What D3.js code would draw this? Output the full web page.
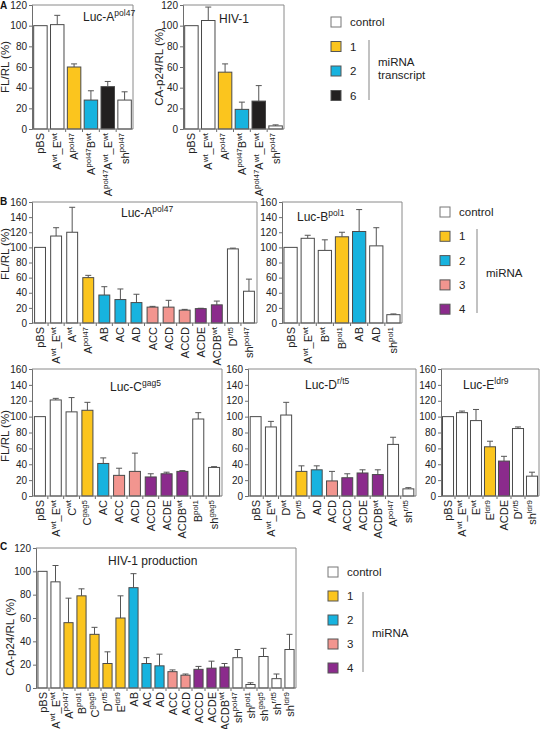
<!DOCTYPE html>
<html><head><meta charset="utf-8">
<script src="https://cdn.jsdelivr.net/npm/d3@7"></script>
<style>body{margin:0;background:#fff}svg{display:block}</style>
</head><body>
<svg id="fig" width="540" height="729"></svg>
<script>
// ---------- DATA ----------
const catsA = ["pBS","A{wt}_E{wt}","A{pol47}","A{pol47}B{wt}","A{pol47}A{wt}_E{wt}","sh{pol47}"];
const grpA  = ["w","w","y","b","k","w"];
const valsA1 = [100,101,60,28,41,28];
const errA1  = [0,9,3,9,5,8];
const valsA2 = [100,105,55,19,27,3];
const errA2  = [0,13,8,7,15,1];

const catsB1 = ["pBS","A{wt}_E{wt}","A{wt}","A{pol47}","AB","AC","AD","ACC","ACD","ACCD","ACDE","ACDB{wt}","D{r/t5}","sh{pol47}"];
const valsB1 = [100,115,120,60,37,31,27,21,21,17,19,24,98,42];
const errB1  = [0,11,33,3,11,14,11,1,9,1,0.5,5,1,16];
const grpB1  = ["w","w","w","y","b","b","b","p","p","p","u","u","w","w"];

const catsB2 = ["pBS","A{wt}_E{wt}","B{wt}","B{pol1}","AB","AD","sh{pol1}"];
const valsB2 = [100,112,96,114,121,102,11];
const errB2  = [0,4,14,6,29,24,1];
const grpB2  = ["w","w","w","y","b","w","w"];

const catsB3 = ["pBS","A{wt}_E{wt}","C{wt}","C{gag5}","AC","ACC","ACD","ACCD","ACDE","ACDB{wt}","B{pol1}","sh{gag5}"];
const valsB3 = [100,121,106,108,41,26,31,24,28,31,97,36];
const errB3  = [0,2,18,10,7,9,23,4,2,1,8,1];
const grpB3  = ["w","w","w","y","b","p","p","u","u","u","w","w"];

const catsB4 = ["pBS","A{wt}_E{wt}","D{wt}","D{r/t5}","AD","ACD","ACCD","ACDE","ACDB{wt}","A{pol47}","sh{r/t5}"];
const valsB4 = [100,87,102,31,33,19,23,29,27,65,9];
const errB4  = [0,7,16,7,5,12,5,4,6,9,1.5];
const grpB4  = ["w","w","w","y","b","p","u","u","u","w","w"];

const catsB5 = ["pBS","A{wt}_E{wt}","E{wt}","E{ldr9}","ACDE","D{r/t5}","sh{ldr9}"];
const valsB5 = [100,105,95,62,44,85,25];
const errB5  = [0,2,14,7,6,2,5];
const grpB5  = ["w","w","w","y","u","w","w"];

const catsC = ["pBS","A{wt}_E{wt}","A{pol47}","B{pol1}","C{gag5}","D{r/t5}","E{ldr9}","AB","AC","AD","ACC","ACD","ACCD","ACDE","ACDB{wt}","sh{pol47}","sh{pol1}","sh{gag5}","sh{r/t5}","sh{ldr9}"];
const valsC = [100,91,56,79,46,21,60,86,21,19,14,11,16,17,18,26,3,27,8,33];
const errC  = [0,14,21,6,6,10,19,12,5,10,1.5,1,2.5,6,3,7,1.5,7,4,13];
const grpC  = ["w","w","y","y","y","y","y","b","b","b","p","p","u","u","u","w","w","w","w","w"];

const ticks120 = [0,20,40,60,80,100,120];
const ticks160 = [0,20,40,60,80,100,120,140,160];

const legendA = ["control","1","2","6"];
const legendAGrp = ["w","y","b","k"];
const legendB = ["control","1","2","3","4"];
const legendBGrp = ["w","y","b","p","u"];

// ---------- STYLE ----------
const FONT = "'Liberation Sans', Arial, Helvetica, sans-serif";
const COL = {w:"#ffffff", y:"#FBC51E", b:"#17B3DF", p:"#F2958F", u:"#8B2B8C", k:"#222020"};
const AX = "#6e6e6e", FRAME = "#8a8a8a", BARSTROKE = "#4a4a4a";

const svg = d3.select("#fig").style("font-family", FONT);

function parseLabel(s){
  const parts = []; const re = /([^{}]+)|\{([^}]*)\}/g; let m;
  while((m = re.exec(s))){ if(m[1]!==undefined) parts.push({t:m[1],sup:false}); else parts.push({t:m[2],sup:true}); }
  return parts;
}
function richText(sel, s, size, supSize){
  const parts = parseLabel(s); let up = false;
  parts.forEach(p=>{
    const ts = sel.append("tspan").text(p.t);
    if(p.sup){ ts.attr("font-size", supSize); if(!up){ts.attr("dy", -size*0.38); up=true;} }
    else { ts.attr("font-size", size); if(up){ts.attr("dy", size*0.38); up=false;} }
  });
}

function chart(o){
  const g = svg.append("g");
  const x = d3.scaleBand().domain(o.cats.map((d,i)=>i)).range([o.x0,o.x1]).paddingInner(o.pad).paddingOuter(o.pad/2);
  const y = d3.scaleLinear().domain([0,o.max]).range([o.y0,o.yTop]);
  g.append("path").attr("d",`M${o.x0},${o.yTop}H${o.x1}V${o.y0}`).attr("fill","none").attr("stroke",FRAME).attr("stroke-width",1);
  o.cats.forEach((c,i)=>{
    const v=o.vals[i], e=o.err[i], cx=x(i)+x.bandwidth()/2;
    if(e>0){
      g.append("line").attr("x1",cx).attr("x2",cx).attr("y1",y(v)).attr("y2",y(v+e)).attr("stroke","#555").attr("stroke-width",1);
      g.append("line").attr("x1",cx-3).attr("x2",cx+3).attr("y1",y(v+e)).attr("y2",y(v+e)).attr("stroke","#555").attr("stroke-width",1);
    }
    g.append("rect").attr("x",x(i)+0.5).attr("y",y(v)).attr("width",x.bandwidth()-1).attr("height",y(0)-y(v))
      .attr("fill",COL[o.grp[i]]).attr("stroke",BARSTROKE).attr("stroke-width",1);
  });
  const ya = d3.axisLeft(y).tickValues(o.ticks).tickSize(3).tickPadding(2);
  const yg = g.append("g").attr("transform",`translate(${o.x0},0)`).call(ya);
  yg.select(".domain").attr("stroke",AX);
  yg.selectAll(".tick line").attr("stroke",AX);
  yg.selectAll(".tick text").attr("font-size",10).attr("font-family",FONT).attr("fill","#222");
  const xa = d3.axisBottom(x).tickSize(0).tickFormat("");
  const xg = g.append("g").attr("transform",`translate(0,${o.y0})`).call(xa);
  xg.select(".domain").attr("stroke",AX).attr("d",`M${o.x0},0H${o.x1}`);
  const step = x.step();
  o.cats.forEach((c,i)=>{
    const bx = x(i)-(step-x.bandwidth())/2;
    if(i>0) xg.append("line").attr("x1",bx).attr("x2",bx).attr("y1",0).attr("y2",3).attr("stroke",AX);
  });
  o.cats.forEach((c,i)=>{
    const cx=x(i)+x.bandwidth()/2;
    const t = g.append("text").attr("transform",`translate(${cx+4},${o.y0+4}) rotate(-90)`)
      .attr("text-anchor","end").attr("fill","#222");
    richText(t,c,o.lblSize||11,(o.lblSize||11)*0.72);
  });
  if(o.title){
    const t = g.append("text").attr("x",o.titleX).attr("y",o.titleY).attr("fill","#222");
    richText(t,o.title,12,8.5);
  }
  if(o.ytitle){
    g.append("text").attr("transform",`translate(${o.ytx},${o.yty}) rotate(-90)`).attr("text-anchor","middle")
      .attr("font-size",11.5).attr("fill","#222").text(o.ytitle);
  }
}

function legend(lx, ly, gap, labels, grps, lineX, lineY0, lineY1, words, wordY){
  const g = svg.append("g");
  labels.forEach((l,i)=>{
    const yy = ly + i*gap;
    g.append("rect").attr("x",lx).attr("y",yy-5).attr("width",10).attr("height",10)
      .attr("fill",COL[grps[i]]).attr("stroke",i===0?"#777":"#555").attr("stroke-width",1);
    g.append("text").attr("x",lx+19).attr("y",yy+4).attr("font-size",11.5).attr("fill","#222").text(l);
  });
  g.append("line").attr("x1",lineX).attr("x2",lineX).attr("y1",lineY0).attr("y2",lineY1).attr("stroke","#999").attr("stroke-width",1.2);
  words.forEach((w,i)=>g.append("text").attr("x",lineX+9).attr("y",wordY+i*12.5).attr("font-size",11.5).attr("fill","#222").text(w));
}

// Panel letters
[["A",0,9],["B",0,205],["C",0,550]].forEach(d=>svg.append("text").attr("x",d[1]).attr("y",d[2]).attr("font-size",10).attr("font-weight","bold").attr("fill","#111").text(d[0]));

// ---------- PANEL A ----------
chart({cats:catsA,vals:valsA1,err:errA1,grp:grpA,x0:32,x1:133,y0:129,yTop:5,max:120,ticks:ticks120,pad:0.14,
  title:"Luc-A{pol47}",titleX:83,titleY:21,ytitle:"FL/RL (%)",ytx:9,yty:67});
chart({cats:catsA,vals:valsA2,err:errA2,grp:grpA,x0:183,x1:284,y0:129,yTop:5,max:120,ticks:ticks120,pad:0.14,
  title:"HIV-1",titleX:219,titleY:23,ytitle:"CA-p24/RL (%)",ytx:163,yty:67});
legend(331,22,24.5,legendA,legendAGrp,369,40,100,["miRNA","transcript"],66);

// ---------- PANEL B ----------
chart({cats:catsB1,vals:valsB1,err:errB1,grp:grpB1,x0:32,x1:257,y0:323,yTop:202,max:160,ticks:ticks160,pad:0.26,
  title:"Luc-A{pol47}",titleX:121,titleY:217,ytitle:"FL/RL (%)",ytx:9,yty:254});
chart({cats:catsB2,vals:valsB2,err:errB2,grp:grpB2,x0:282,x1:402,y0:323,yTop:202,max:160,ticks:ticks160,pad:0.17,
  title:"Luc-B{pol1}",titleX:297,titleY:221});
legend(440,212,24.3,legendB,legendBGrp,477,229,313,["miRNA"],277);

chart({cats:catsB3,vals:valsB3,err:errB3,grp:grpB3,x0:32,x1:222,y0:496,yTop:369,max:160,ticks:ticks160,pad:0.24,
  title:"Luc-C{gag5}",titleX:110,titleY:391,ytitle:"FL/RL (%)",ytx:9,yty:436});
chart({cats:catsB4,vals:valsB4,err:errB4,grp:grpB4,x0:248,x1:416,y0:496,yTop:369,max:160,ticks:ticks160,pad:0.22,
  title:"Luc-D{r/t5}",titleX:305,titleY:389});
chart({cats:catsB5,vals:valsB5,err:errB5,grp:grpB5,x0:441,x1:539,y0:496,yTop:369,max:160,ticks:ticks160,pad:0.14,
  title:"Luc-E{ldr9}",titleX:463,titleY:389});

// ---------- PANEL C ----------
chart({cats:catsC,vals:valsC,err:errC,grp:grpC,x0:36,x1:296,y0:688,yTop:548,max:120,ticks:ticks120,pad:0.22,
  title:"HIV-1 production",titleX:108,titleY:565,ytitle:"CA-p24/RL (%)",ytx:14,yty:637});
legend(328,572,24,legendB,legendBGrp,363,592,672,["miRNA"],637);
</script>
</body></html>
